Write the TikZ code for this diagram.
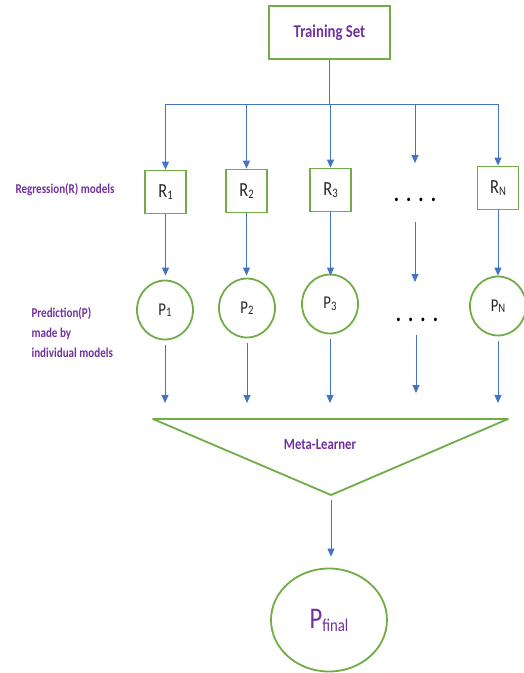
\documentclass[tikz,border=0pt]{standalone}
\usepackage{fontspec}
\setmainfont{Carlito}[FakeStretch=0.82]
\usetikzlibrary{arrows.meta,shapes.geometric}
\definecolor{grn}{HTML}{70AD47}
\definecolor{blu}{HTML}{4472C4}
\definecolor{pur}{HTML}{7030A0}
\newcommand{\fs}[1]{\fontsize{#1}{#1}\selectfont}
\newcommand{\mysub}[1]{\raisebox{-1.5pt}{\fs{13}#1}}
\begin{document}
\begin{tikzpicture}[x=1pt,y=-1pt,
  conn/.style={blu, line width=0.9pt},
  arr/.style={conn, -{Triangle[length=8pt,width=7pt]}},
  rbox/.style={draw=grn, line width=1.8pt, minimum width=41pt, minimum height=43pt, inner sep=0pt, text=black!85, font=\fs{20}},
  pcirc/.style={ellipse, draw=grn, line width=1.8pt, minimum width=56pt, minimum height=59pt, inner sep=0pt, text=black!85, font=\fs{18}},
  lbl/.style={text=pur, font=\bfseries\fontsize{13.5}{20}\selectfont},
  dots/.style={font=\bfseries\fs{24}, text=black, inner sep=0pt}
]
\useasboundingbox (0,0) rectangle (523,673);

% top
\node[draw=grn, line width=1.8pt, minimum width=121pt, minimum height=53pt, text=pur, font=\bfseries\fs{18}] (train) at (329.5,32.5) {Training Set};
\coordinate (hy) at (0,104);

% regression models
\node[rbox] (R1) at (165.5,192) {R\mysub{1}};
\node[rbox] (R2) at (246.5,191) {R\mysub{2}};
\node[rbox] (R3) at (330.5,190) {R\mysub{3}};
\node[rbox] (RN) at (498,188) {R\mysub{N}};
\node[dots] (d1) at (415,200) {.\hspace{7pt}.\hspace{7pt}.\hspace{7pt}.};
\coordinate (d1t) at (415,163);
\coordinate (d1b) at (415,222);
\coordinate (d1e) at (415,282);

% predictions
\node[pcirc] (P1) at (165,310) {P\mysub{1}};
\node[pcirc] (P2) at (247,308) {P\mysub{2}};
\node[pcirc] (P3) at (330,304) {P\mysub{3}};
\node[pcirc] (PN) at (498,306) {P\mysub{N}};
\node[dots] (d2) at (417,320) {.\hspace{7pt}.\hspace{7pt}.\hspace{7pt}.};
\coordinate (d2b) at (416,335);
\coordinate (d2e) at (416,393);

% left labels
\node[lbl] (lr) at (65,190) {Regression(R) models};
\node[lbl, align=left, anchor=west] (lp) at (28,333) {Prediction(P)\\made by\\individual models};

% meta learner
\coordinate (tl) at (153,419);
\coordinate (tr) at (508,419);
\coordinate (bot) at (331,495);
\draw[grn, line width=1.8pt, line join=round] (tl) -- (tr) -- (bot) -- cycle;
\node[text=pur, font=\bfseries\fs{15.5}] (meta) at (320,445) {Meta-Learner};
\coordinate (ty) at (0,403);

% final
\node[ellipse, draw=grn, line width=1.8pt, minimum width=116pt, minimum height=103pt, inner sep=0pt, text=pur] (Pf) at (329,620) {\fs{30}P\raisebox{-3pt}{\fs{18}final}};

% connectors
\draw[conn] (train) -- (train |- hy);
\draw[conn] (R1 |- hy) -- (RN |- hy);
\foreach \n in {R1,R2,R3,RN} \draw[arr] (\n |- hy) -- (\n);
\draw[arr] (d1t |- hy) -- (d1t);
\foreach \n in {R1,R2,R3,RN} \draw[arr, shorten >=4pt] (\n) -- (\n |- P1.north);
\draw[arr] (d1b) -- (d1e);
\foreach \n in {P1,P2,P3,PN} \draw[arr, shorten <=5pt] (\n) -- (\n |- ty);
\draw[arr] (d2b) -- (d2e);
\draw[arr, shorten <=5pt, shorten >=11pt] (bot) -- (bot |- Pf.north);
\end{tikzpicture}
\end{document}
